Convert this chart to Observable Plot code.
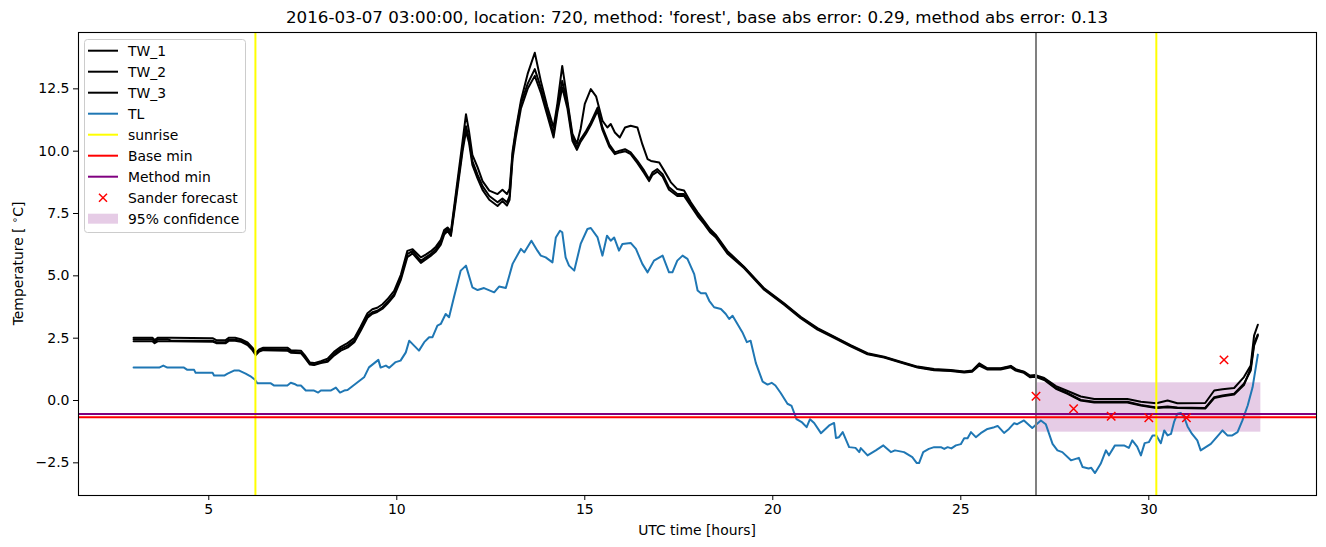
<!DOCTYPE html>
<html><head><meta charset="utf-8">
<script src="https://cdn.jsdelivr.net/npm/d3@7"></script>
<script src="https://cdn.jsdelivr.net/npm/@observablehq/plot@0.6"></script>
<style>
body{margin:0;background:#fff}
svg{font-family:"DejaVu Sans",sans-serif}
</style>
</head><body><div id="chart"></div>
<script>
const titleText = "2016-03-07 03:00:00, location: 720, method: 'forest', base abs error: 0.29, method abs error: 0.13";
const xLabel = "UTC time [hours]";
const xTicks = [5, 10, 15, 20, 25, 30];
const yTicks = [-2.5, 0, 2.5, 5, 7.5, 10, 12.5];

const TW_1 = [[3.0,2.52],[3.5,2.52],[3.56,2.42],[3.65,2.52],[4.0,2.52],[5.1,2.50],[5.2,2.42],[5.45,2.42],[5.54,2.52],[5.7,2.52],[5.85,2.46],[6.03,2.33],[6.16,2.12],[6.25,1.92],[6.34,2.05],[6.45,2.12],[7.09,2.12],[7.18,2.02],[7.45,2.0],[7.55,1.82],[7.69,1.52],[7.8,1.5],[7.98,1.58],[8.16,1.68],[8.33,1.95],[8.51,2.15],[8.69,2.3],[8.87,2.5],[9.04,2.97],[9.22,3.5],[9.35,3.66],[9.48,3.72],[9.62,3.86],[9.75,4.06],[9.93,4.4],[10.11,5.05],[10.28,6.0],[10.42,6.07],[10.64,5.74],[10.77,5.85],[10.9,5.98],[11.04,6.17],[11.17,6.44],[11.26,6.84],[11.35,6.94],[11.44,6.78],[11.57,8.3],[11.75,10.4],[11.84,11.48],[11.92,10.8],[12.01,9.85],[12.15,9.35],[12.28,8.8],[12.46,8.42],[12.68,8.28],[12.81,8.45],[12.93,8.28],[13.0,8.5],[13.08,10.0],[13.17,10.9],[13.3,12.02],[13.48,13.1],[13.67,13.95],[13.83,12.82],[14.0,11.8],[14.17,10.95],[14.27,11.9],[14.4,13.42],[14.54,12.0],[14.67,10.7],[14.79,10.3],[14.89,10.9],[15.0,11.9],[15.16,12.49],[15.3,12.2],[15.47,11.22],[15.6,10.95],[15.69,11.09],[15.8,10.75],[15.93,10.55],[16.07,10.95],[16.22,11.02],[16.4,10.95],[16.53,10.28],[16.67,9.68],[16.76,9.61],[16.98,9.55],[17.11,9.22],[17.29,8.75],[17.46,8.48],[17.64,8.42],[17.82,7.95],[18.0,7.55],[18.17,7.21],[18.33,6.88],[18.48,6.65],[18.79,6.0],[19.24,5.36],[19.77,4.5],[20.3,3.9],[20.74,3.36],[21.19,2.9],[21.63,2.56],[22.07,2.22],[22.52,1.9],[22.96,1.76],[23.4,1.56],[23.85,1.36],[24.29,1.26],[24.73,1.22],[25.09,1.16],[25.3,1.2],[25.49,1.49],[25.71,1.29],[26.06,1.29],[26.33,1.39],[26.46,1.26],[26.68,1.16],[26.84,1.0],[26.99,1.02],[27.22,0.9],[27.53,0.58],[27.84,0.38],[28.19,0.16],[28.55,0.06],[29.43,0.06],[29.79,-0.05],[30.2,-0.11],[30.5,0.0],[30.76,-0.11],[31.5,-0.1],[31.74,0.4],[31.96,0.45],[32.27,0.5],[32.53,0.94],[32.71,1.4],[32.8,2.6],[32.9,3.04]];

const TW_2 = [[3.0,2.46],[3.5,2.46],[3.56,2.36],[3.65,2.46],[3.9,2.46],[4.0,2.40],[5.1,2.40],[5.2,2.34],[5.45,2.34],[5.54,2.44],[5.7,2.44],[5.85,2.40],[6.03,2.27],[6.16,2.07],[6.25,1.87],[6.34,2.0],[6.45,2.07],[7.09,2.05],[7.18,1.96],[7.45,1.93],[7.55,1.76],[7.69,1.47],[7.8,1.44],[7.98,1.53],[8.16,1.6],[8.33,1.87],[8.51,2.07],[8.69,2.2],[8.87,2.4],[9.04,2.87],[9.22,3.4],[9.35,3.54],[9.48,3.6],[9.62,3.74],[9.75,3.94],[9.93,4.27],[10.11,4.94],[10.28,5.87],[10.42,6.0],[10.64,5.6],[10.77,5.74],[10.9,5.87],[11.04,6.07],[11.17,6.34],[11.26,6.74],[11.35,6.88],[11.44,6.68],[11.57,8.15],[11.75,10.15],[11.84,11.0],[11.92,10.5],[12.01,9.6],[12.15,9.05],[12.28,8.6],[12.46,8.2],[12.68,7.95],[12.81,8.1],[12.93,7.95],[13.0,8.2],[13.08,9.88],[13.17,10.8],[13.3,11.89],[13.48,12.7],[13.67,13.29],[13.83,12.55],[14.0,11.62],[14.17,10.69],[14.27,11.75],[14.4,12.82],[14.54,11.89],[14.67,10.55],[14.79,10.15],[14.89,10.48],[15.03,10.8],[15.16,11.15],[15.34,11.75],[15.47,10.95],[15.65,10.28],[15.8,9.95],[15.93,10.02],[16.07,10.08],[16.22,9.95],[16.4,9.61],[16.58,9.22],[16.71,8.88],[16.8,9.15],[16.93,9.28],[17.07,9.08],[17.24,8.55],[17.46,8.28],[17.64,8.28],[17.82,7.88],[18.0,7.48],[18.17,7.14],[18.33,6.81],[18.48,6.61],[18.79,5.94],[19.24,5.34],[19.77,4.47],[20.3,3.87],[20.74,3.34],[21.19,2.87],[21.63,2.54],[22.07,2.2],[22.52,1.87],[22.96,1.74],[23.4,1.54],[23.85,1.34],[24.29,1.23],[24.73,1.2],[25.09,1.14],[25.3,1.18],[25.49,1.45],[25.71,1.27],[26.06,1.27],[26.33,1.37],[26.46,1.23],[26.68,1.14],[26.84,0.96],[26.99,0.98],[27.22,0.85],[27.53,0.5],[27.84,0.3],[28.19,0.02],[28.55,-0.05],[29.43,-0.05],[29.79,-0.18],[30.2,-0.28],[30.5,-0.24],[30.76,-0.28],[31.5,-0.3],[31.74,0.13],[31.96,0.2],[32.27,0.27],[32.53,0.67],[32.71,1.2],[32.8,2.2],[32.9,2.6]];

const TW_3 = [[3.0,2.38],[3.5,2.38],[3.56,2.3],[3.65,2.38],[4.0,2.38],[5.1,2.36],[5.2,2.3],[5.45,2.3],[5.54,2.4],[5.7,2.4],[5.85,2.36],[6.03,2.22],[6.16,2.02],[6.25,1.82],[6.34,1.96],[6.45,2.02],[7.09,2.0],[7.18,1.92],[7.45,1.9],[7.55,1.72],[7.69,1.44],[7.8,1.42],[7.98,1.5],[8.16,1.55],[8.33,1.8],[8.51,2.0],[8.69,2.12],[8.87,2.34],[9.04,2.8],[9.22,3.32],[9.35,3.48],[9.48,3.55],[9.62,3.68],[9.75,3.88],[9.93,4.2],[10.11,4.85],[10.28,5.75],[10.42,5.9],[10.64,5.52],[10.77,5.66],[10.9,5.8],[11.04,5.98],[11.17,6.25],[11.26,6.65],[11.35,6.8],[11.44,6.6],[11.57,8.0],[11.75,10.0],[11.84,10.8],[11.92,10.35],[12.01,9.45],[12.15,8.9],[12.28,8.45],[12.46,8.05],[12.68,7.8],[12.81,8.0],[12.93,7.82],[13.0,8.05],[13.08,9.7],[13.17,10.6],[13.3,11.7],[13.48,12.5],[13.67,13.02],[13.83,12.35],[14.0,11.45],[14.17,10.55],[14.27,11.55],[14.4,12.55],[14.54,11.7],[14.67,10.42],[14.79,10.05],[14.89,10.38],[15.03,10.7],[15.16,11.05],[15.34,11.62],[15.47,10.85],[15.65,10.18],[15.8,9.88],[15.93,9.95],[16.07,10.0],[16.22,9.88],[16.4,9.52],[16.58,9.12],[16.71,8.8],[16.8,9.05],[16.93,9.18],[17.07,8.98],[17.24,8.45],[17.46,8.2],[17.64,8.2],[17.82,7.8],[18.0,7.4],[18.17,7.08],[18.33,6.75],[18.48,6.55],[18.79,5.9],[19.24,5.3],[19.77,4.44],[20.3,3.84],[20.74,3.3],[21.19,2.84],[21.63,2.51],[22.07,2.17],[22.52,1.85],[22.96,1.72],[23.4,1.52],[23.85,1.32],[24.29,1.21],[24.73,1.18],[25.09,1.12],[25.3,1.15],[25.49,1.4],[25.71,1.24],[26.06,1.24],[26.33,1.33],[26.46,1.2],[26.68,1.11],[26.84,0.93],[26.99,0.95],[27.22,0.82],[27.53,0.47],[27.84,0.27],[28.19,0.0],[28.55,-0.08],[29.43,-0.08],[29.79,-0.2],[30.2,-0.3],[30.5,-0.27],[30.76,-0.3],[31.5,-0.32],[31.74,0.1],[31.96,0.17],[32.27,0.24],[32.53,0.62],[32.71,1.3],[32.8,2.3],[32.9,2.65]];

const TL = [[3.0,1.32],[3.68,1.32],[3.79,1.40],[3.9,1.32],[4.34,1.32],[4.43,1.23],[4.61,1.23],[4.65,1.11],[5.1,1.11],[5.14,1.0],[5.41,1.0],[5.5,1.08],[5.67,1.2],[5.81,1.2],[5.98,1.08],[6.1,0.98],[6.23,0.83],[6.29,0.69],[6.65,0.69],[6.74,0.6],[7.09,0.6],[7.18,0.71],[7.3,0.65],[7.36,0.6],[7.45,0.6],[7.58,0.4],[7.8,0.4],[7.91,0.32],[7.98,0.4],[8.24,0.4],[8.38,0.52],[8.49,0.32],[8.6,0.4],[8.69,0.42],[9.13,0.93],[9.26,1.33],[9.51,1.63],[9.57,1.32],[9.71,1.40],[9.8,1.31],[9.97,1.54],[10.1,1.6],[10.24,1.93],[10.33,2.4],[10.46,2.2],[10.59,2.0],[10.73,2.34],[10.86,2.54],[10.95,2.54],[11.08,3.0],[11.17,3.07],[11.3,3.47],[11.39,3.34],[11.52,4.14],[11.7,5.21],[11.84,5.41],[12.01,4.54],[12.15,4.43],[12.32,4.51],[12.59,4.34],[12.72,4.57],[12.9,4.51],[13.08,5.48],[13.3,6.08],[13.39,5.94],[13.58,6.41],[13.74,6.01],[13.83,5.81],[13.96,5.74],[14.14,5.54],[14.23,6.54],[14.34,6.81],[14.4,6.75],[14.49,5.74],[14.58,5.41],[14.72,5.21],[14.89,6.28],[15.07,6.88],[15.16,6.92],[15.34,6.54],[15.47,5.81],[15.59,6.61],[15.69,6.41],[15.78,6.54],[15.91,6.01],[16.0,6.28],[16.22,6.32],[16.36,6.08],[16.53,5.48],[16.67,5.14],[16.84,5.61],[17.07,5.81],[17.24,5.14],[17.33,5.14],[17.46,5.61],[17.6,5.81],[17.73,5.68],[17.91,5.07],[18.0,4.41],[18.09,4.3],[18.22,4.3],[18.31,4.0],[18.44,3.74],[18.62,3.67],[18.75,3.47],[18.84,3.27],[18.93,3.4],[19.06,3.07],[19.19,2.74],[19.31,2.34],[19.41,2.40],[19.55,1.5],[19.73,0.76],[19.86,0.64],[19.97,0.71],[20.07,0.6],[20.21,0.3],[20.39,-0.13],[20.5,-0.22],[20.63,-0.75],[20.78,-0.88],[20.9,-1.07],[20.99,-0.75],[21.1,-0.9],[21.28,-1.31],[21.5,-1.0],[21.63,-0.9],[21.68,-1.5],[21.76,-1.47],[21.86,-1.27],[22.03,-1.87],[22.2,-1.9],[22.3,-2.07],[22.34,-1.91],[22.52,-2.2],[22.74,-2.0],[22.94,-1.8],[23.14,-2.07],[23.25,-2.0],[23.49,-2.07],[23.71,-2.27],[23.83,-2.51],[23.89,-2.51],[24.0,-2.07],[24.15,-1.94],[24.29,-1.87],[24.47,-1.87],[24.56,-1.94],[24.65,-1.87],[24.75,-1.92],[24.87,-1.8],[25.0,-1.75],[25.09,-1.51],[25.18,-1.51],[25.27,-1.27],[25.4,-1.47],[25.53,-1.31],[25.71,-1.14],[25.89,-1.07],[25.98,-1.02],[26.15,-1.3],[26.28,-1.14],[26.42,-0.91],[26.5,-0.95],[26.68,-0.8],[26.9,-1.1],[27.13,-0.8],[27.26,-0.95],[27.44,-1.74],[27.57,-2.0],[27.7,-2.07],[27.93,-2.4],[28.14,-2.3],[28.24,-2.67],[28.4,-2.73],[28.47,-2.7],[28.57,-2.91],[28.72,-2.54],[28.86,-2.0],[28.94,-2.2],[29.1,-1.8],[29.34,-1.8],[29.47,-1.9],[29.56,-1.6],[29.69,-1.85],[29.79,-2.2],[29.89,-1.71],[30.0,-1.67],[30.1,-1.4],[30.2,-1.4],[30.32,-1.71],[30.41,-1.2],[30.5,-1.4],[30.59,-1.34],[30.67,-0.87],[30.76,-0.53],[30.85,-0.5],[30.94,-0.67],[31.03,-1.04],[31.15,-1.34],[31.29,-1.6],[31.38,-2.0],[31.65,-1.74],[31.87,-1.36],[31.96,-1.2],[32.09,-1.4],[32.22,-1.4],[32.36,-1.27],[32.49,-0.8],[32.63,-0.2],[32.76,0.53],[32.9,1.84]];

const sunrise = [6.24, 30.2];
const forecastStart = [27.0];
const baseMin = [-0.67];
const methodMin = [-0.54];
const sanderHours = [27, 28, 29, 30, 31, 32];
const sanderValues = [0.17, -0.33, -0.63, -0.69, -0.69, 1.63];
const confidence = [{x1: 27.0, x2: 32.98, lo: -1.27, hi: 0.71}];

const sander = sanderHours.map((h, i) => ({h, v: sanderValues[i]}));
const fx = d => d[0], fy = d => d[1];

const W = 1326, H = 547, mL = 78, mR = 10, mT = 32, mB = 52;
const LW = 2;

const chart = Plot.plot({
  width: W, height: H,
  marginLeft: mL, marginRight: mR, marginTop: mT, marginBottom: mB,
  style: {fontFamily: "DejaVu Sans, sans-serif", fontSize: "14px", color: "black", background: "white", overflow: "visible"},
  x: {domain: [1.535, 34.46]},
  y: {domain: [-3.81, 14.76]},
  marks: [
    Plot.rect(confidence, {x1: "x1", x2: "x2", y1: "lo", y2: "hi", fill: "purple", fillOpacity: 0.2}),
    Plot.line(TW_1, {x: fx, y: fy, stroke: "black", strokeWidth: LW}),
    Plot.line(TW_2, {x: fx, y: fy, stroke: "black", strokeWidth: LW}),
    Plot.line(TW_3, {x: fx, y: fy, stroke: "black", strokeWidth: LW}),
    Plot.line(TL, {x: fx, y: fy, stroke: "#1f77b4", strokeWidth: LW}),
    Plot.ruleX(sunrise, {stroke: "yellow", strokeWidth: LW}),
    Plot.ruleX(forecastStart, {stroke: "gray", strokeWidth: LW}),
    Plot.ruleY(baseMin, {stroke: "red", strokeWidth: LW}),
    Plot.ruleY(methodMin, {stroke: "purple", strokeWidth: LW}),
    Plot.dot(sander, {x: "h", y: "v", symbol: "times", stroke: "red", r: 3.9, strokeWidth: 1.5}),
    Plot.frame({stroke: "black", strokeWidth: 1.1}),
    Plot.axisX({ticks: xTicks, tickSize: 5, tickPadding: 4, tickFormat: d3.format("d"), label: null, fontSize: 14}),
    Plot.axisY({ticks: yTicks, tickSize: 5, tickPadding: 4, tickFormat: d3.format(".1f"), label: null, fontSize: 14})
  ]
});
document.getElementById("chart").appendChild(chart);

const svg = d3.select(chart);
const cx = (mL + W - mR) / 2;
svg.append("text").attr("x", cx).attr("y", 23).attr("text-anchor", "middle")
  .attr("font-size", 16.7).attr("fill", "black").text(titleText);
svg.append("text").attr("x", cx).attr("y", 535).attr("text-anchor", "middle")
  .attr("font-size", 13.9).attr("fill", "black").text(xLabel);
const yl = svg.append("text").attr("transform", `translate(23,${(mT + H - mB) / 2}) rotate(-90)`)
  .attr("text-anchor", "middle").attr("font-size", 13.9).attr("fill", "black");
yl.append("tspan").text("Temperature [ ");
yl.append("tspan").attr("dy", -5).attr("font-size", 10).text("∘");
yl.append("tspan").attr("dy", 5).text("C]");

// legend
const legendItems = [
  {label: "TW_1", type: "line", color: "black"},
  {label: "TW_2", type: "line", color: "black"},
  {label: "TW_3", type: "line", color: "black"},
  {label: "TL", type: "line", color: "#1f77b4"},
  {label: "sunrise", type: "line", color: "yellow"},
  {label: "Base min", type: "line", color: "red"},
  {label: "Method min", type: "line", color: "purple"},
  {label: "Sander forecast", type: "x", color: "red"},
  {label: "95% confidence", type: "patch", color: "purple"}
];
const lg = svg.append("g").attr("text-anchor", "start");
lg.append("rect").attr("x", 84.5).attr("y", 39.5).attr("width", 161).attr("height", 193)
  .attr("rx", 3).attr("fill", "white").attr("fill-opacity", 0.8).attr("stroke", "#cccccc");
legendItems.forEach((it, i) => {
  const y = 50.7 + i * 21;
  if (it.type === "line") {
    lg.append("line").attr("x1", 88).attr("x2", 118).attr("y1", y).attr("y2", y)
      .attr("stroke", it.color).attr("stroke-width", LW);
  } else if (it.type === "x") {
    const r = 4;
    lg.append("path").attr("d", `M${103-r},${y-r}L${103+r},${y+r}M${103-r},${y+r}L${103+r},${y-r}`)
      .attr("stroke", it.color).attr("stroke-width", 1.5);
  } else {
    lg.append("rect").attr("x", 88).attr("y", y - 5).attr("width", 30).attr("height", 10)
      .attr("fill", it.color).attr("fill-opacity", 0.2);
  }
  lg.append("text").attr("x", 128).attr("y", y).attr("dy", "0.35em").attr("text-anchor", "start")
    .attr("font-size", 13.9).attr("fill", "black").text(it.label);
});
</script>
</body></html>
